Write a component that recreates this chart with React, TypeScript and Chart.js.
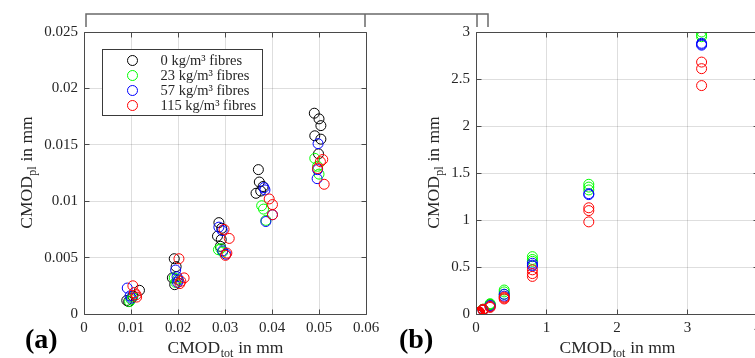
import React, { useEffect, useRef } from 'react';
import { Chart, registerables } from 'chart.js';

Chart.register(...registerables);

// ---------- data ----------
const SERIES_LABELS = ['0 kg/m³ fibres', '23 kg/m³ fibres', '57 kg/m³ fibres', '115 kg/m³ fibres'];
const SERIES_COLORS = ['#000000', '#00ff00', '#0000ff', '#ff0000'];

// panel (a): [CMOD_tot, CMOD_pl] in mm
const fibre0A: number[][] = [
  [0.0118, 0.0021], [0.0091, 0.0012], [0.0095, 0.0011], [0.0104, 0.0016],
  [0.0192, 0.0049], [0.0196, 0.0042], [0.0188, 0.0032], [0.0193, 0.0026],
  [0.0287, 0.0081], [0.0284, 0.0069], [0.0293, 0.0076], [0.0292, 0.0066], [0.029, 0.006],
  [0.0371, 0.0128], [0.0373, 0.0117], [0.0366, 0.0107], [0.0381, 0.0113], [0.0376, 0.0109],
  [0.049, 0.0178], [0.05, 0.0173], [0.0504, 0.0167], [0.0491, 0.0158], [0.0504, 0.0155], [0.0499, 0.0142],
];
const fibre23A: number[][] = [
  [0.0097, 0.0011], [0.01, 0.0013], [0.0103, 0.0015],
  [0.0192, 0.0032], [0.0195, 0.0028], [0.0199, 0.0031],
  [0.0286, 0.0057], [0.0291, 0.0058], [0.0295, 0.0055],
  [0.0378, 0.0096], [0.0382, 0.0093], [0.0387, 0.0083],
  [0.0491, 0.0138], [0.05, 0.0124], [0.0497, 0.0131],
];
const fibre57A: number[][] = [
  [0.0092, 0.0023], [0.0098, 0.0016], [0.0101, 0.0014],
  [0.0195, 0.0039], [0.0198, 0.0033], [0.0201, 0.003], [0.0199, 0.0028],
  [0.0287, 0.0077], [0.0294, 0.0074], [0.0295, 0.0056], [0.0302, 0.0053],
  [0.0383, 0.0112], [0.0385, 0.011], [0.0401, 0.0088], [0.0387, 0.0082],
  [0.0498, 0.0151], [0.0497, 0.0128], [0.0496, 0.012],
];
const fibre115A: number[][] = [
  [0.0104, 0.0025], [0.0111, 0.0017], [0.0107, 0.0019], [0.0112, 0.0015],
  [0.0202, 0.0049], [0.0213, 0.0032], [0.0206, 0.0029], [0.0204, 0.0027],
  [0.0298, 0.0075], [0.0309, 0.0067], [0.0304, 0.0054], [0.0301, 0.0052],
  [0.0394, 0.0102], [0.0401, 0.0097], [0.0401, 0.0088],
  [0.0508, 0.0137], [0.0497, 0.0129], [0.0511, 0.0115], [0.0503, 0.0135],
];

// panel (b): additional points at larger CMOD_tot (panel (a) points are included too)
const fibre0B: number[][] = [[0.1, 0.05], [0.2, 0.1]];
const fibre23B: number[][] = [
  [0.1, 0.05], [0.2, 0.11], [0.2, 0.1],
  [0.4, 0.255], [0.4, 0.235], [0.4, 0.21],
  [0.8, 0.61], [0.8, 0.58], [0.8, 0.56],
  [1.6, 1.38], [1.6, 1.35], [1.6, 1.32],
  [3.2, 3.0], [3.2, 2.97], [3.2, 2.95],
];
const fibre57B: number[][] = [
  [0.1, 0.04], [0.2, 0.09], [0.2, 0.08],
  [0.4, 0.21], [0.4, 0.19],
  [0.8, 0.54], [0.8, 0.52], [0.8, 0.51],
  [1.6, 1.28], [1.6, 1.27],
  [3.2, 2.88], [3.2, 2.87], [3.2, 2.86],
];
const fibre115B: number[][] = [
  [0.05, 0.02], [0.1, 0.04], [0.1, 0.05], [0.2, 0.07], [0.2, 0.08],
  [0.4, 0.18], [0.4, 0.17], [0.4, 0.16],
  [0.8, 0.47], [0.8, 0.43], [0.8, 0.4],
  [1.6, 1.13], [1.6, 1.1], [1.6, 0.98],
  [3.2, 2.68], [3.2, 2.61], [3.2, 2.43],
];

// axis ranges [min, max, step]
const X_RANGE_A = [0, 0.06, 0.01];
const Y_RANGE_A = [0, 0.025, 0.005];
const X_RANGE_B = [0, 4, 1];
const Y_RANGE_B = [0, 3, 0.5];

// zoom bracket: span of panel (a) and matching span in panel (b)
const BRACKET_A = [0, 0.06];
const BRACKET_B = [0, 0.17];

const X_TITLE = ['CMOD', 'tot', ' in mm'];
const Y_TITLE = ['CMOD', 'pl', ' in mm'];
const PANEL_LABELS = ['(a)', '(b)'];

// ---------- styling ----------
const FONT = '"Liberation Serif", "Times New Roman", serif';
const TEXT_COLOR = '#262626';
const GRID_COLOR = 'rgba(0,0,0,0.13)';
const BOX_COLOR = '#4a4a4a';

function al(p: number) {
  return Math.round(p - 0.5) + 0.5;
}

function fmtTick(v: number) {
  return String(parseFloat(Number(v).toFixed(6)));
}

function drawSubTitle(ctx: CanvasRenderingContext2D, parts: string[], cx: number, base: number) {
  const mainFont = `17.5px ${FONT}`;
  const subFont = `12px ${FONT}`;
  ctx.font = mainFont;
  const w1 = ctx.measureText(parts[0]).width;
  const w3 = ctx.measureText(parts[2]).width;
  ctx.font = subFont;
  const w2 = ctx.measureText(parts[1]).width;
  const start = cx - (w1 + w2 + w3) / 2;
  ctx.textAlign = 'left';
  ctx.textBaseline = 'alphabetic';
  ctx.fillStyle = TEXT_COLOR;
  ctx.font = mainFont;
  ctx.fillText(parts[0], start, base);
  ctx.font = subFont;
  ctx.fillText(parts[1], start + w1 + 0.5, base + 4);
  ctx.font = mainFont;
  ctx.fillText(parts[2], start + w1 + w2 + 1, base);
}

function decorPlugin(opts: { label: string; labelX: number; yTitleX: number; legend: boolean }) {
  return {
    id: 'panelDecor',
    afterDraw(chart: any) {
      const { ctx, chartArea: ca, scales } = chart;
      const xs = scales.x;
      const ys = scales.y;
      ctx.save();
      // box
      ctx.strokeStyle = BOX_COLOR;
      ctx.lineWidth = 1;
      const L = al(ca.left), R = al(ca.right), T = al(ca.top), B = al(ca.bottom);
      ctx.beginPath();
      ctx.moveTo(L, T); ctx.lineTo(R, T); ctx.lineTo(R, B); ctx.lineTo(L, B); ctx.closePath();
      ctx.stroke();
      // inward ticks
      const tl = 5;
      ctx.beginPath();
      xs.ticks.forEach((t: any) => {
        const p = al(xs.getPixelForValue(t.value));
        ctx.moveTo(p, B); ctx.lineTo(p, B - tl);
        ctx.moveTo(p, T); ctx.lineTo(p, T + tl);
      });
      ys.ticks.forEach((t: any) => {
        const p = al(ys.getPixelForValue(t.value));
        ctx.moveTo(L, p); ctx.lineTo(L + tl, p);
        ctx.moveTo(R, p); ctx.lineTo(R - tl, p);
      });
      ctx.stroke();

      // axis titles
      drawSubTitle(ctx, X_TITLE, (ca.left + ca.right) / 2, 353);
      ctx.save();
      ctx.translate(opts.yTitleX, (ca.top + ca.bottom) / 2);
      ctx.rotate(-Math.PI / 2);
      drawSubTitle(ctx, Y_TITLE, 0, 0);
      ctx.restore();

      // panel label
      ctx.font = `bold 28px ${FONT}`;
      ctx.fillStyle = '#000';
      ctx.textAlign = 'left';
      ctx.textBaseline = 'alphabetic';
      ctx.fillText(opts.label, opts.labelX, 348);

      // legend
      if (opts.legend) {
        const lx = al(ca.left + 18), ly = al(ca.top + 17);
        ctx.font = `14.5px ${FONT}`;
        const datasets = chart.data.datasets;
        let tw = 0;
        datasets.forEach((d: any) => { tw = Math.max(tw, ctx.measureText(d.label).width); });
        const w = Math.round(58 + tw + 6);
        const h = 66;
        ctx.fillStyle = '#fff';
        ctx.fillRect(lx, ly, w, h);
        ctx.strokeStyle = '#3a3a3a';
        ctx.strokeRect(lx, ly, w, h);
        datasets.forEach((d: any, i: number) => {
          const y = ly + 11 + i * 15;
          ctx.beginPath();
          ctx.strokeStyle = d.borderColor;
          ctx.arc(lx + 30, y, 5, 0, Math.PI * 2);
          ctx.stroke();
          ctx.fillStyle = TEXT_COLOR;
          ctx.textBaseline = 'middle';
          ctx.fillText(d.label, lx + 58, y + 0.5);
        });
      }
      ctx.restore();
    },
  };
}

function makeConfig(p: {
  series: number[][][];
  xr: number[];
  yr: number[];
  yAxisWidth: number;
  padRight: number;
  label: string;
  labelX: number;
  yTitleX: number;
  legend: boolean;
}): any {
  const tickFont = { family: FONT, size: 15 };
  return {
    type: 'scatter',
    data: {
      datasets: p.series.map((pts, i) => ({
        label: SERIES_LABELS[i],
        data: pts.map(([x, y]) => ({ x, y })),
        borderColor: SERIES_COLORS[i],
        backgroundColor: 'rgba(0,0,0,0)',
        pointStyle: 'circle',
        pointRadius: 5,
        pointHoverRadius: 5,
        pointBorderWidth: 1,
        showLine: false,
        order: 4 - i,
      })),
    },
    options: {
      responsive: false,
      animation: false,
      events: [],
      layout: { padding: { left: 0, top: 32, right: p.padRight, bottom: 0 } },
      plugins: { legend: { display: false }, tooltip: { enabled: false } },
      scales: {
        x: {
          type: 'linear',
          min: p.xr[0],
          max: p.xr[1],
          ticks: { stepSize: p.xr[2], padding: 5, font: tickFont, color: TEXT_COLOR, maxRotation: 0, autoSkip: false, callback: fmtTick },
          grid: { color: GRID_COLOR, drawTicks: false },
          border: { display: false },
          afterFit: (s: any) => { s.height = 44; },
        },
        y: {
          type: 'linear',
          min: p.yr[0],
          max: p.yr[1],
          ticks: { stepSize: p.yr[2], padding: 6, font: tickFont, color: TEXT_COLOR, autoSkip: false, callback: fmtTick },
          grid: { color: GRID_COLOR, drawTicks: false },
          border: { display: false },
          afterFit: (s: any) => { s.width = p.yAxisWidth; },
        },
      },
    },
    plugins: [decorPlugin({ label: p.label, labelX: p.labelX, yTitleX: p.yTitleX, legend: p.legend })],
  };
}

const B_OFFSET = 380;

export default function App() {
  const refA = useRef<HTMLCanvasElement>(null);
  const refB = useRef<HTMLCanvasElement>(null);
  const refC = useRef<HTMLCanvasElement>(null);

  useEffect(() => {
    document.body.style.margin = '0';
    const chartA = new Chart(refA.current as HTMLCanvasElement, makeConfig({
      series: [fibre0A, fibre23A, fibre57A, fibre115A],
      xr: X_RANGE_A, yr: Y_RANGE_A,
      yAxisWidth: 84, padRight: 34,
      label: PANEL_LABELS[0], labelX: 25, yTitleX: 31.5, legend: true,
    }));
    const chartB = new Chart(refB.current as HTMLCanvasElement, makeConfig({
      series: [
        [...fibre0A, ...fibre0B],
        [...fibre23A, ...fibre23B],
        [...fibre57A, ...fibre57B],
        [...fibre115A, ...fibre115B],
      ],
      xr: X_RANGE_B, yr: Y_RANGE_B,
      yAxisWidth: 96, padRight: 22,
      label: PANEL_LABELS[1], labelX: 19, yTitleX: 59, legend: false,
    }));

    // zoom bracket over both panels
    const c = refC.current as HTMLCanvasElement;
    const ctx = c.getContext('2d') as CanvasRenderingContext2D;
    ctx.clearRect(0, 0, c.width, c.height);
    const ax0 = chartA.scales.x.getPixelForValue(BRACKET_A[0]);
    const ax1 = chartA.scales.x.getPixelForValue(BRACKET_A[1]);
    const bx0 = B_OFFSET + chartB.scales.x.getPixelForValue(BRACKET_B[0]);
    const bx1 = B_OFFSET + chartB.scales.x.getPixelForValue(BRACKET_B[1]);
    const top = chartA.chartArea.top - 18;
    const bot = chartA.chartArea.top - 5;
    ctx.strokeStyle = '#6a6a6a';
    ctx.lineWidth = 1.5;
    ctx.beginPath();
    ctx.moveTo(Math.round(ax0) + 2, bot);
    ctx.lineTo(Math.round(ax0) + 2, top);
    ctx.lineTo(Math.round(bx1), top);
    ctx.lineTo(Math.round(bx1), bot);
    ctx.moveTo(Math.round(ax1) - 1, top);
    ctx.lineTo(Math.round(ax1) - 1, bot);
    ctx.moveTo(Math.round(bx0) + 1, top);
    ctx.lineTo(Math.round(bx0) + 1, bot);
    ctx.stroke();

    return () => {
      chartA.destroy();
      chartB.destroy();
    };
  }, []);

  return (
    <div style={{ position: 'absolute', left: 0, top: 0, width: 755, height: 358, overflow: 'hidden', background: '#fff' }}>
      <canvas ref={refA} width={400} height={358} style={{ position: 'absolute', left: 0, top: 0, width: 400, height: 358 }} />
      <canvas ref={refB} width={400} height={358} style={{ position: 'absolute', left: B_OFFSET, top: 0, width: 400, height: 358 }} />
      <canvas ref={refC} width={755} height={358} style={{ position: 'absolute', left: 0, top: 0, width: 755, height: 358, pointerEvents: 'none' }} />
    </div>
  );
}
